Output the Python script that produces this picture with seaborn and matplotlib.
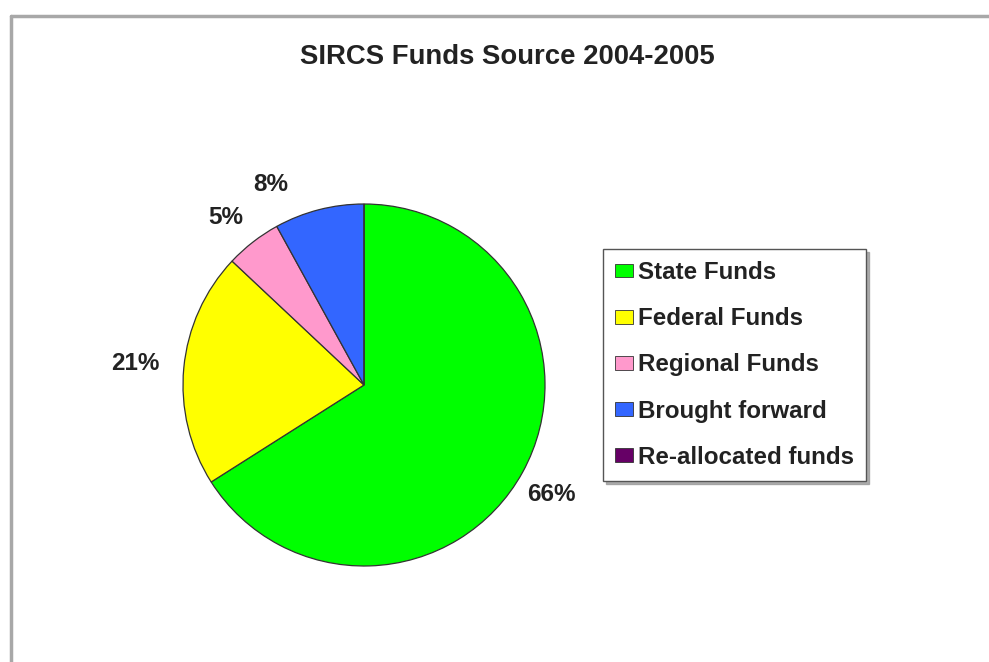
import matplotlib
matplotlib.use("Agg")
import matplotlib.pyplot as plt
import seaborn as sns
import numpy as np
from matplotlib.patches import Patch
from matplotlib.lines import Line2D

# ---- data ----
categories = ["State Funds", "Federal Funds", "Regional Funds", "Brought forward", "Re-allocated funds"]
values = [66, 21, 5, 8, 0]
pct_labels = ["66%", "21%", "5%", "8%", ""]
title = "SIRCS Funds Source 2004-2005"
colors = ["#00FF00", "#FFFF00", "#FF99CC", "#3366FF", "#660066"]

sns.set_theme(style="white")
plt.rcParams["font.family"] = ["Liberation Sans", "DejaVu Sans"]

W, H = 989, 662
fig = plt.figure(figsize=(W / 100, H / 100), dpi=100)
fig.patch.set_facecolor("white")

cx, cy, r = 364, 385, 181
ax = fig.add_axes([(cx - r) / W, (H - cy - r) / H, 2 * r / W, 2 * r / H])

palette = sns.color_palette(colors)
wedges, _ = ax.pie(values, colors=palette, startangle=90, counterclock=False, radius=1,
                   wedgeprops=dict(edgecolor="#333333", linewidth=0.9))
ax.set_xlim(-1, 1)
ax.set_ylim(-1, 1)
ax.set_aspect("equal")
ax.axis("off")

# label placement (style): radial distance and angular nudge per label
label_dist = [1.2, 1.27, 1.2, 1.22, 1.2]
label_nudge = [-1.5, 0.0, 1.7, 10.5, 0.0]
for w, lab, d, nd in zip(wedges, pct_labels, label_dist, label_nudge):
    if not lab:
        continue
    ang = np.deg2rad((w.theta1 + w.theta2) / 2 + nd)
    ax.text(d * np.cos(ang), d * np.sin(ang), lab, ha="center", va="center",
            fontsize=17.5, fontweight="bold", color="#222222", clip_on=False)

fig.text(507 / W, 1 - 57 / H, title, ha="center", va="center",
         fontsize=19.8, fontweight="bold", color="#222222")

handles = [Patch(facecolor=c, edgecolor="#333333", linewidth=0.6) for c in palette]
leg = fig.legend(handles, categories, loc="upper left",
                 bbox_to_anchor=(603 / W, 1 - 249 / H),
                 prop=dict(size=17.4, weight="bold"), frameon=True, fancybox=False,
                 shadow={"ox": 2, "oy": -2, "color": "0.6", "alpha": 0.8},
                 handlelength=0.75, handleheight=0.5, handletextpad=0.2,
                 labelspacing=0.96, borderpad=0.5, borderaxespad=0)
leg.get_frame().set_edgecolor("#555555")
leg.get_frame().set_linewidth(1.0)
for t in leg.get_texts():
    t.set_color("#222222")

# outer chart frame (top and left only visible)
fig.add_artist(Line2D([11 / W, 1], [1 - 16 / H, 1 - 16 / H], color="#A8A8A8", linewidth=2.5))
fig.add_artist(Line2D([11 / W, 11 / W], [0, 1 - 16 / H], color="#A8A8A8", linewidth=2.5))

fig.savefig("out.png", dpi=100, facecolor="white")
